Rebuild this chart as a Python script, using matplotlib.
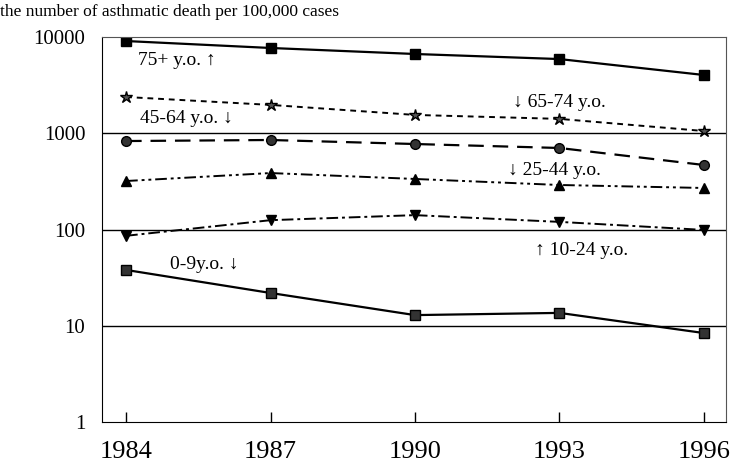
import numpy as np
import matplotlib
matplotlib.use("Agg")
import matplotlib.pyplot as plt

plt.rcParams['font.family'] = ['Liberation Serif', 'DejaVu Serif']

years = [1984, 1987, 1990, 1993, 1996]
age75 = [9080, 7690, 6660, 5900, 4030]
age65 = [2380, 1970, 1550, 1410, 1055]
age45 = [830, 851, 773, 703, 468]
age25 = [319, 386, 335, 290, 270]
age10 = [86, 125, 141, 120, 99]
age0 = [38, 21.9, 12.9, 13.6, 8.4]

fig = plt.figure(figsize=(7.3, 4.67), dpi=100)
ax = fig.add_axes([102/730, 1-422/467, 624/730, 385/467])

ax.plot(years, age75, color='black', lw=1.6, marker='s', ms=7, mfc='black', mec='black')
ax.plot(years, age65, color='black', lw=1.4, ls=(0, (3, 2.5)), marker='*', ms=9, mfc='#555555', mec='black')
ax.plot(years, age45, color='black', lw=1.6, ls=(0, (7, 4)), marker='o', ms=7, mfc='#333333', mec='black')
ax.plot(years, age25, color='black', lw=1.4, ls=(0, (6, 2, 1.5, 2, 1.5, 2)), marker='^', ms=7, mfc='black', mec='black')
ax.plot(years, age10, color='black', lw=1.4, ls=(0, (6, 2, 1.5, 2)), marker='v', ms=7, mfc='black', mec='black')
ax.plot(years, age0, color='black', lw=1.6, marker='s', ms=7, mfc='#333333', mec='black')

ax.set_yscale('log')
ax.set_ylim(1, 10000)
ax.set_xlim(1983.5, 1996.46)
for v in [10, 100, 1000]:
    ax.axhline(v, color='black', lw=1)

ax.set_xticks(years)
ax.set_xticklabels([str(y) for y in years], fontsize=19)
ax.tick_params(axis='x', direction='in', length=7, width=1, pad=14)
ax.set_yticks([1, 10, 100, 1000, 10000])
ax.set_yticklabels(['1', '10', '100', '1000', '10000'], fontsize=15)
ax.tick_params(axis='y', length=0, pad=12)
ax.minorticks_off()
for s in ['top', 'right']:
    ax.spines[s].set_color('#555555')
    ax.spines[s].set_linewidth(0.8)

fs = 14
ax.text(1984.25, 5640, '75+ y.o. \u2191', fontsize=fs, va='center')
ax.text(1984.29, 1440, '45-64 y.o. \u2193', fontsize=fs, va='center')
ax.text(1992.03, 2110, '\u2193 65-74 y.o.', fontsize=fs, va='center')
ax.text(1991.93, 415, '\u2193 25-44 y.o.', fontsize=fs, va='center')
ax.text(1992.5, 59.8, '\u2191 10-24 y.o.', fontsize=fs, va='center')
ax.text(1984.91, 42.8, '0-9y.o. \u2193', fontsize=fs, va='center')

fig.text(0.0, 1-12/467, 'the number of asthmatic death per 100,000 cases', fontsize=12.5, va='center', ha='left')

fig.savefig('out.png', dpi=100)
